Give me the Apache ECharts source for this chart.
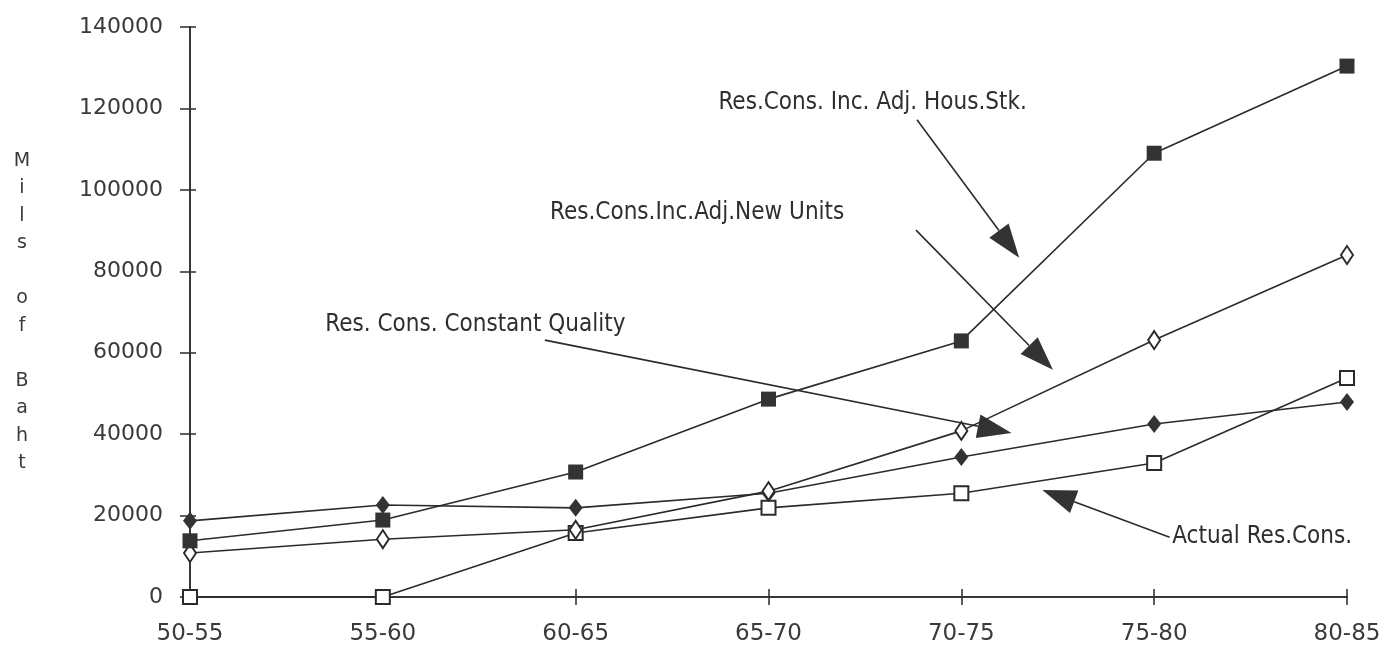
<!DOCTYPE html>
<html>
<head>
<meta charset="utf-8">
<script src="https://cdn.jsdelivr.net/npm/echarts@6/dist/echarts.min.js"></script>
<style>
html,body{margin:0;padding:0;background:#fff;}
#chart{width:1390px;height:651px;}
</style>
</head>
<body>
<div id="chart"></div>
<script>
// ---- data ----
const categories = ['50-55', '55-60', '60-65', '65-70', '70-75', '75-80', '80-85'];
const housStk = [13800, 18900, 30700, 48600, 62900, 109000, 130400];      // filled squares
const newUnits = [10800, 14200, 16500, 26000, 40800, 63100, 84000];       // open diamonds
const constQuality = [18700, 22600, 21900, 25500, 34400, 42500, 47900];   // filled diamonds
const actual = [0, 0, 15700, 21900, 25500, 32900, 53800];                 // open squares
const yMin = 0, yMax = 140000, yStep = 20000;
const yAxisTitle = 'Mils of Baht';

// annotation texts, placed in data space (x = category index, y = value)
const annotations = [
  { text: 'Res.Cons. Inc. Adj. Hous.Stk.', label: [3.54, 121300], from: [3.77, 117200], to: [4.30, 83300] },
  { text: 'Res.Cons.Inc.Adj.New Units',   label: [2.63, 94300],  from: [3.765, 90100], to: [4.475, 55800] },
  { text: 'Res. Cons. Constant Quality',  label: [1.48, 66800],  from: [1.84, 63100],  to: [4.26, 40300] },
  { text: 'Actual Res.Cons.',              label: [5.56, 14700],  from: [5.08, 14700],  to: [4.42, 26300] }
];

const toPairs = arr => arr.map((v, i) => [i, v]);

const chart = echarts.init(document.getElementById('chart'), null, { renderer: 'canvas' });

const ink = '#2b2b2b';
const labelColor = '#3a3a3a';

function lineSeries(name, data, symbol, size, open) {
  return {
    name, type: 'line', data: toPairs(data),
    symbol, symbolSize: size, showSymbol: true,
    lineStyle: { color: ink, width: 1.6 },
    itemStyle: open ? { color: '#fff', borderColor: ink, borderWidth: 2 } : { color: '#333', borderColor: '#333', borderWidth: 0 },
    emphasis: { disabled: true }, animation: false
  };
}

const xBase = {
  type: 'value', min: 0, max: categories.length - 1, interval: 1,
  axisLine: { lineStyle: { color: ink, width: 1.5 } },
  splitLine: { show: false }
};
const yBase = {
  type: 'value', min: yMin, max: yMax, interval: yStep,
  axisLine: { show: true, lineStyle: { color: ink, width: 1.5 } },
  splitLine: { show: false }
};

chart.setOption({
  backgroundColor: '#fff',
  animation: false,
  grid: { left: 190, right: 43, top: 27, bottom: 54 },
  xAxis: [
    Object.assign({}, xBase, {
      axisTick: { show: true, length: 8, lineStyle: { color: ink, width: 1.5 } },
      axisLabel: { margin: 26, formatter: v => categories[v], fontFamily: 'DejaVu Sans', fontSize: 23, color: labelColor }
    }),
    Object.assign({}, xBase, {
      position: 'bottom',
      axisTick: { show: true, inside: true, length: 8, lineStyle: { color: ink, width: 1.5 } },
      axisLabel: { show: false }
    })
  ],
  yAxis: [
    Object.assign({}, yBase, {
      axisTick: { show: true, length: 10, lineStyle: { color: ink, width: 1.5 } },
      axisLabel: { margin: 27, formatter: v => String(v), fontFamily: 'DejaVu Sans', fontSize: 22, color: labelColor }
    }),
    Object.assign({}, yBase, {
      position: 'left',
      axisTick: { show: true, inside: true, length: 6, lineStyle: { color: ink, width: 1.5 } },
      axisLabel: { show: false }
    })
  ],
  series: [
    lineSeries('Actual Res.Cons.', actual, 'rect', 14, true),
    lineSeries('Res. Cons. Constant Quality', constQuality, 'diamond', [14, 18], false),
    lineSeries('Res.Cons.Inc.Adj.New Units', newUnits, 'diamond', [12, 18], true),
    lineSeries('Res.Cons. Inc. Adj. Hous.Stk.', housStk, 'rect', 15, false)
  ]
});

// annotations (text + arrows), positioned through the grid's coordinate conversion
const graphics = [];
annotations.forEach(a => {
  const pl = chart.convertToPixel({ gridIndex: 0 }, a.label);
  const p0 = chart.convertToPixel({ gridIndex: 0 }, a.from);
  const p1 = chart.convertToPixel({ gridIndex: 0 }, a.to);
  graphics.push({
    type: 'text', x: pl[0], y: pl[1],
    style: { text: a.text, fontFamily: 'DejaVu Sans Condensed', fontSize: 24, fill: '#2e2e2e',
             textAlign: 'center', textVerticalAlign: 'middle' },
    silent: true
  });
  const dx = p1[0] - p0[0], dy = p1[1] - p0[1];
  const len = Math.hypot(dx, dy);
  const ux = dx / len, uy = dy / len;
  const headL = 34, headW = 12;
  const bx = p1[0] - ux * headL, by = p1[1] - uy * headL;
  graphics.push({
    type: 'line', shape: { x1: p0[0], y1: p0[1], x2: bx, y2: by },
    style: { stroke: ink, lineWidth: 1.6 }, silent: true
  });
  graphics.push({
    type: 'polygon',
    shape: { points: [[p1[0], p1[1]], [bx - uy * headW, by + ux * headW], [bx + uy * headW, by - ux * headW]] },
    style: { fill: '#333' }, silent: true
  });
});
// stacked vertical axis title
const letters = yAxisTitle.split(' ').map(w => w.split('').join('\n')).join('\n\n');
const mid = chart.convertToPixel({ yAxisIndex: 0 }, (yMin + yMax) / 2);
graphics.push({
  type: 'text', x: 22, y: mid,
  style: { text: letters, fontFamily: 'DejaVu Sans', fontSize: 19, lineHeight: 27.5, fill: '#3a3a3a',
           textAlign: 'center', textVerticalAlign: 'middle' },
  silent: true
});
chart.setOption({ graphic: graphics });
</script>
</body>
</html>
